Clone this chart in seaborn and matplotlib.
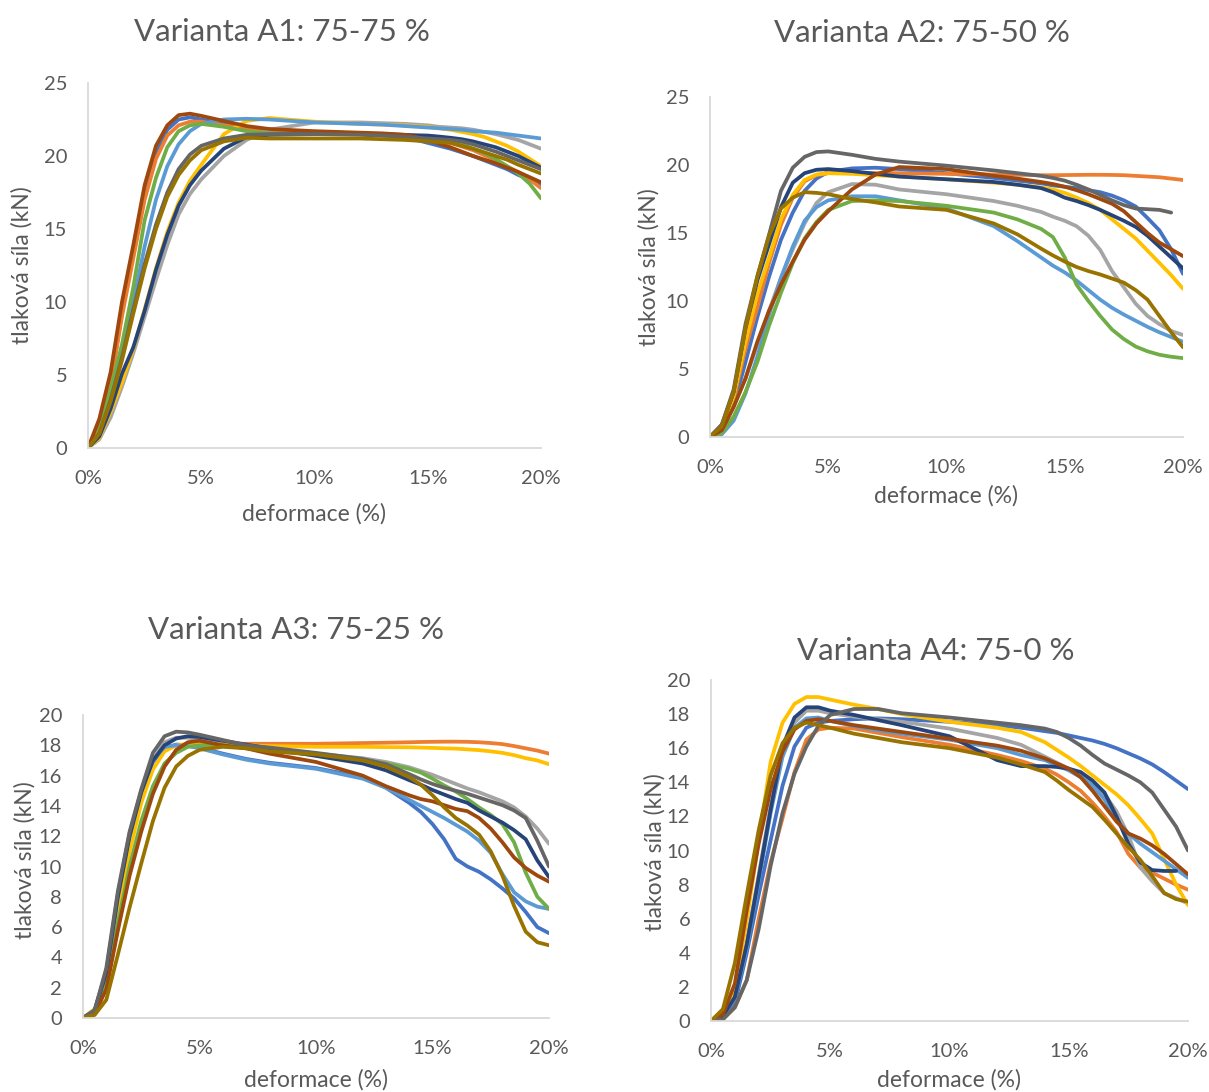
import numpy as np
import pandas as pd
import matplotlib
matplotlib.use("Agg")
import matplotlib.pyplot as plt
import seaborn as sns
from matplotlib.ticker import FuncFormatter, MultipleLocator

sns.set_theme(style="white")
plt.rcParams["font.family"] = ["Lato", "DejaVu Sans"]

# deformation steps (%) shared by all specimens
deformace = [0, 0.5, 1, 1.5, 2, 2.5, 3, 3.5, 4, 4.5, 5, 6, 7, 8, 10, 12, 13, 14,
             14.5, 15, 15.5, 16, 16.5, 17, 17.5, 18, 18.5, 19, 19.5, 20]

vzorky = ["1", "2", "3", "4", "5", "6", "7", "8", "9", "10"]
barvy = ["#4472C4", "#ED7D31", "#A5A5A5", "#FFC000", "#5B9BD5",
         "#70AD47", "#264478", "#9E480E", "#666666", "#997300"]

nan = np.nan

# Variant A1: 75-75 %  (force in kN)
a1 = {
    "1": [0, 1.5, 4.5, 9.3, 13.4, 17.3, 20.2, 21.8, 22.5, 22.65, 22.5, 22.2, 21.9, 21.7, 21.6, 21.5, 21.4, 21.3, 21.1, 20.9, 20.7, 20.5, 20.25, 20.0, 19.7, 19.4, 19.1, 18.7, 18.4, 18.0],
    "2": [0, 1.3, 4.3, 9.0, 13.0, 17.0, 19.8, 21.4, 22.1, 22.35, 22.35, 22.1, 21.9, 21.75, 21.65, 21.55, 21.5, 21.4, 21.3, 21.2, 21.05, 20.9, 20.65, 20.4, 20.05, 19.7, 19.3, 18.9, 18.4, 17.8],
    "3": [0, 0.6, 2.1, 4.2, 6.5, 9.0, 11.5, 13.9, 16.0, 17.4, 18.4, 20.0, 21.1, 21.8, 22.3, 22.3, 22.25, 22.2, 22.15, 22.1, 22.0, 21.95, 21.9, 21.8, 21.65, 21.5, 21.3, 21.1, 20.8, 20.5],
    "4": [0, 0.7, 2.5, 4.5, 6.8, 9.5, 12.3, 14.8, 16.8, 18.3, 19.4, 21.5, 22.4, 22.6, 22.35, 22.2, 22.15, 22.1, 22.05, 22.0, 21.9, 21.8, 21.65, 21.5, 21.3, 21.0, 20.7, 20.3, 19.8, 19.3],
    "5": [0, 1.0, 3.5, 6.5, 10.0, 13.8, 17.0, 19.3, 20.8, 21.7, 22.2, 22.5, 22.55, 22.5, 22.3, 22.2, 22.15, 22.05, 22.0, 21.95, 21.9, 21.85, 21.8, 21.7, 21.65, 21.6, 21.5, 21.4, 21.3, 21.2],
    "6": [0, 1.2, 4.0, 7.1, 11.0, 15.6, 18.5, 20.6, 21.7, 22.1, 22.2, 22.0, 21.7, 21.55, 21.5, 21.5, 21.45, 21.4, 21.35, 21.3, 21.15, 21.0, 20.8, 20.5, 20.2, 19.8, 19.3, 18.8, 18.1, 17.1],
    "7": [0, 0.8, 2.7, 5.1, 6.9, 9.4, 12.2, 14.6, 16.6, 18.0, 19.0, 20.5, 21.3, 21.45, 21.5, 21.5, 21.5, 21.45, 21.42, 21.4, 21.33, 21.25, 21.15, 21.0, 20.8, 20.6, 20.3, 20.0, 19.6, 19.2],
    "8": [0, 2.0, 5.2, 10.0, 13.9, 18.0, 20.7, 22.1, 22.8, 22.9, 22.75, 22.4, 22.05, 21.85, 21.7, 21.6, 21.55, 21.45, 21.3, 21.1, 20.85, 20.6, 20.3, 20.0, 19.75, 19.5, 19.2, 18.9, 18.55, 18.2],
    "9": [0, 1.0, 3.3, 6.2, 9.5, 12.6, 15.3, 17.5, 19.1, 20.1, 20.7, 21.2, 21.45, 21.5, 21.5, 21.45, 21.4, 21.3, 21.25, 21.2, 21.15, 21.1, 21.0, 20.8, 20.55, 20.3, 20.0, 19.7, 19.4, 19.1],
    "10": [0, 1.0, 3.2, 6.0, 9.2, 12.3, 15.0, 17.2, 18.7, 19.7, 20.4, 21.0, 21.25, 21.2, 21.2, 21.2, 21.15, 21.1, 21.05, 21.0, 20.95, 20.9, 20.7, 20.5, 20.25, 20.0, 19.75, 19.4, 19.1, 18.8],
}

# Variant A2: 75-50 %
a2 = {
    "1": [0, 0.6, 2.3, 5.5, 8.8, 11.8, 14.5, 16.5, 18.1, 19.0, 19.5, 19.75, 19.8, 19.7, 19.4, 19.05, 18.85, 18.65, 18.5, 18.4, 18.3, 18.15, 18.0, 17.75, 17.4, 16.95, 16.1, 15.2, 13.8, 12.0],
    "2": [0, 0.7, 2.8, 6.5, 9.5, 12.8, 15.6, 17.6, 18.8, 19.25, 19.4, 19.4, 19.4, 19.4, 19.35, 19.3, 19.28, 19.25, 19.25, 19.26, 19.27, 19.28, 19.28, 19.27, 19.25, 19.2, 19.15, 19.1, 19.0, 18.9],
    "3": [0, 0.6, 2.3, 4.3, 6.8, 9.3, 11.7, 13.8, 15.7, 17.2, 18.0, 18.6, 18.55, 18.2, 17.85, 17.35, 17.0, 16.55, 16.2, 15.9, 15.5, 14.8, 13.75, 12.2, 11.0, 9.8, 8.9, 8.3, 7.8, 7.5],
    "4": [0, 0.8, 3.0, 7.0, 10.5, 13.2, 16.0, 17.8, 18.9, 19.3, 19.4, 19.35, 19.25, 19.15, 18.95, 18.7, 18.55, 18.35, 18.2, 17.95, 17.6, 17.2, 16.7, 16.0, 15.3, 14.6, 13.7, 12.8, 11.9, 10.9],
    "5": [0, 0.2, 1.2, 3.2, 5.9, 9.0, 11.7, 14.0, 15.9, 16.9, 17.4, 17.7, 17.7, 17.4, 16.8, 15.5, 14.4, 13.2, 12.6, 12.1, 11.5, 10.8, 10.1, 9.5, 9.0, 8.55, 8.1, 7.7, 7.35, 7.0],
    "6": [0, 0.3, 1.5, 3.3, 5.5, 8.2, 10.6, 12.8, 14.6, 15.8, 16.7, 17.35, 17.4, 17.35, 17.0, 16.5, 16.0, 15.3, 14.7, 13.2, 11.2, 10.0, 8.9, 7.9, 7.2, 6.65, 6.3, 6.05, 5.9, 5.8],
    "7": [0, 0.9, 3.3, 8.0, 11.5, 14.2, 16.9, 18.7, 19.4, 19.65, 19.7, 19.55, 19.35, 19.15, 18.95, 18.75, 18.55, 18.3, 18.0, 17.6, 17.35, 17.05, 16.7, 16.3, 15.9, 15.45, 14.8, 14.0, 13.2, 12.4],
    "8": [0, 0.5, 2.2, 4.3, 7.0, 9.3, 11.2, 12.9, 14.5, 15.7, 16.6, 18.2, 19.3, 19.85, 19.7, 19.2, 19.0, 18.75, 18.6, 18.4, 18.15, 17.85, 17.5, 17.15, 16.6, 15.8, 15.0, 14.3, 13.8, 13.3],
    "9": [0, 0.9, 3.5, 8.3, 11.8, 14.9, 18.1, 19.8, 20.6, 20.95, 21.0, 20.75, 20.45, 20.25, 19.95, 19.6, 19.4, 19.2, 19.05, 18.85, 18.55, 18.2, 17.8, 17.4, 17.05, 16.8, 16.75, 16.7, 16.5, nan],
    "10": [0, 0.8, 3.3, 8.0, 11.8, 14.8, 16.8, 17.6, 18.0, 17.95, 17.85, 17.5, 17.25, 16.95, 16.7, 15.7, 14.9, 13.85, 13.35, 12.9, 12.5, 12.2, 11.95, 11.65, 11.35, 10.8, 10.1, 8.9, 7.7, 6.6],
}

# Variant A3: 75-25 %
a3 = {
    "1": [0, 0.5, 3.0, 7.9, 11.8, 14.8, 16.9, 17.8, 18.05, 18.0, 17.85, 17.45, 17.1, 16.85, 16.5, 15.9, 15.2, 14.2, 13.6, 12.8, 11.8, 10.5, 10.0, 9.65, 9.15, 8.55, 7.9, 7.0, 6.0, 5.6],
    "2": [0, 0.3, 2.0, 6.0, 9.6, 12.6, 15.0, 16.7, 17.6, 18.0, 18.1, 18.1, 18.1, 18.1, 18.1, 18.15, 18.17, 18.2, 18.22, 18.23, 18.24, 18.24, 18.23, 18.2, 18.15, 18.08, 17.95, 17.8, 17.65, 17.45],
    "3": [0, 0.5, 3.0, 7.8, 11.6, 14.6, 17.0, 18.2, 18.5, 18.5, 18.4, 18.15, 17.9, 17.7, 17.45, 17.15, 16.9, 16.55, 16.3, 16.05, 15.75, 15.45, 15.15, 14.9, 14.6, 14.3, 13.9, 13.3, 12.5, 11.5],
    "4": [0, 0.6, 2.8, 7.2, 11.0, 14.2, 16.4, 17.6, 18.0, 18.1, 18.1, 18.05, 18.0, 17.95, 17.9, 17.9, 17.88, 17.87, 17.85, 17.83, 17.8, 17.78, 17.73, 17.68, 17.6, 17.5, 17.35, 17.15, 17.0, 16.75],
    "5": [0, 0.5, 3.1, 8.2, 12.2, 15.0, 17.0, 17.9, 18.0, 17.95, 17.8, 17.4, 17.05, 16.8, 16.45, 15.8, 15.2, 14.4, 14.0, 13.6, 13.2, 12.75, 12.3, 11.7, 10.9, 9.5, 8.3, 7.7, 7.35, 7.2],
    "6": [0, 0.4, 2.3, 6.3, 10.0, 13.0, 15.3, 16.8, 17.5, 17.9, 18.0, 18.0, 17.85, 17.65, 17.35, 17.05, 16.8, 16.45, 16.2, 15.8, 15.35, 14.95, 14.45, 13.9, 13.4, 12.8, 11.6, 9.6, 8.0, 7.2],
    "7": [0, 0.5, 3.0, 8.0, 12.0, 14.9, 17.0, 18.0, 18.45, 18.6, 18.55, 18.3, 18.05, 17.8, 17.3, 16.8, 16.35, 15.7, 15.4, 15.05, 14.75, 14.45, 14.2, 13.7, 13.3, 12.9, 12.4, 11.8, 10.4, 9.3],
    "8": [0, 0.3, 1.9, 5.8, 9.4, 12.3, 14.8, 16.6, 17.7, 18.2, 18.3, 18.0, 17.8, 17.45, 16.9, 16.0, 15.3, 14.7, 14.45, 14.3, 14.05, 13.8, 13.65, 13.2, 12.5, 11.6, 10.6, 9.9, 9.4, 9.0],
    "9": [0, 0.5, 3.3, 8.4, 12.3, 15.1, 17.5, 18.6, 18.9, 18.85, 18.7, 18.35, 18.0, 17.85, 17.5, 17.1, 16.75, 16.1, 15.75, 15.45, 15.2, 15.0, 14.8, 14.55, 14.3, 14.05, 13.7, 13.2, 11.7, 10.0],
    "10": [0, 0.2, 1.2, 4.2, 7.3, 10.2, 13.0, 15.2, 16.6, 17.3, 17.7, 17.9, 17.8, 17.6, 17.4, 17.0, 16.6, 15.9, 15.4, 14.7, 13.9, 13.2, 12.7, 12.1, 11.0, 9.4, 7.4, 5.7, 5.0, 4.8],
}

# Variant A4: 75-0 %
a4 = {
    "1": [0, 0.2, 1.0, 4.0, 7.4, 10.6, 13.8, 16.1, 17.2, 17.5, 17.6, 17.7, 17.75, 17.7, 17.55, 17.35, 17.2, 17.0, 16.9, 16.75, 16.6, 16.45, 16.25, 16.0, 15.7, 15.4, 15.05, 14.6, 14.1, 13.6],
    "2": [0, 0.1, 0.8, 2.4, 6.0, 9.3, 11.9, 14.6, 16.5, 17.1, 17.2, 17.15, 16.9, 16.65, 16.2, 15.6, 15.25, 14.8, 14.45, 14.0, 13.5, 12.8, 12.0, 11.1, 9.8, 9.0, 8.7, 8.35, 8.0, 7.7],
    "3": [0, 0.3, 1.4, 4.6, 8.6, 12.6, 15.9, 17.5, 18.2, 18.2, 18.05, 17.85, 17.7, 17.55, 17.15, 16.6, 16.2, 15.5, 15.15, 14.8, 14.4, 13.9, 13.3, 12.3, 10.9, 9.0, 8.2, 7.5, 7.2, 6.9],
    "4": [0, 0.5, 1.9, 5.9, 10.6, 15.2, 17.5, 18.6, 19.0, 19.0, 18.85, 18.55, 18.3, 18.0, 17.55, 17.2, 16.95, 16.35, 15.9, 15.45, 14.95, 14.4, 13.85, 13.3, 12.65, 11.85, 11.0, 9.5, 8.0, 6.8],
    "5": [0, 0.3, 1.3, 4.3, 8.2, 12.2, 15.5, 17.2, 17.75, 17.8, 17.6, 17.3, 17.05, 16.85, 16.5, 16.0, 15.6, 15.3, 15.0, 14.7, 14.3, 13.8, 13.0, 11.8, 11.0, 10.4, 9.9, 9.4, 8.9, 8.4],
    "7": [0, 0.3, 1.4, 4.5, 8.4, 12.4, 16.1, 17.8, 18.4, 18.4, 18.2, 17.95, 17.65, 17.35, 16.7, 15.3, 14.95, 14.95, 14.9, 14.8, 14.6, 14.1, 13.4, 12.0, 10.4, 9.3, 8.85, 8.8, 8.8, nan],
    "8": [0, 0.4, 2.2, 6.5, 10.4, 13.6, 15.8, 17.1, 17.6, 17.7, 17.6, 17.35, 17.15, 16.95, 16.55, 16.15, 15.85, 15.4, 15.1, 14.8, 14.3, 13.5, 12.6, 11.7, 11.0, 10.7, 10.3, 9.8, 9.2, 8.6],
    "9": [0, 0.1, 0.8, 2.4, 5.4, 9.1, 12.2, 14.5, 16.1, 17.3, 17.95, 18.3, 18.3, 18.05, 17.8, 17.5, 17.35, 17.15, 16.95, 16.6, 16.15, 15.6, 15.1, 14.75, 14.4, 14.0, 13.4, 12.4, 11.4, 10.0],
    "10": [0, 0.7, 3.4, 7.4, 11.2, 14.4, 16.3, 17.2, 17.5, 17.35, 17.2, 16.85, 16.6, 16.35, 16.0, 15.45, 15.05, 14.6, 14.1, 13.55, 13.05, 12.55, 11.8, 11.0, 10.2, 9.45, 8.5, 7.5, 7.15, 7.0],
}

TEXT = "#595959"
AXIS = "#D9D9D9"
W, H = 1209, 1092

# (title, data, axes rect [px: left, top, right, bottom], ymax, ystep,
#  title xy, ylabel xy, xlabel xy)
panely = [
    ("Varianta A1: 75-75 %", a1, (88, 83, 541, 448), 25, 5, (282, 32), (22, 265), (314, 514)),
    ("Varianta A2: 75-50 %", a2, (710, 97, 1183, 437), 25, 5, (922, 33), (649, 267), (946, 496)),
    ("Varianta A3: 75-25 %", a3, (83, 715, 549, 1018), 20, 2, (296, 630), (25, 860), (316, 1080)),
    ("Varianta A4: 75-0 %", a4, (711, 680, 1188, 1021), 20, 2, (936, 651), (655, 852), (949, 1080)),
]

fig = plt.figure(figsize=(W / 100, H / 100), dpi=100)
fig.patch.set_facecolor("white")

for titulek, data, (l, t, r, b), ymax, ystep, txy, yxy, xxy in panely:
    ax = fig.add_axes([l / W, 1 - b / H, (r - l) / W, (b - t) / H])
    rows = []
    for name in vzorky:
        if name not in data:
            continue
        for x, y in zip(deformace, data[name]):
            if not np.isnan(y):
                rows.append({"deformace": x, "sila": y, "vzorek": name})
    df = pd.DataFrame(rows)
    order = [n for n in vzorky if n in data]
    pal = {n: barvy[int(n) - 1] for n in order}
    sns.lineplot(data=df, x="deformace", y="sila", hue="vzorek", hue_order=order,
                 palette=pal, estimator=None, sort=False, legend=False,
                 linewidth=2.7, ax=ax)
    ax.set_xlim(0, 20)
    ax.set_ylim(0, ymax)
    ax.xaxis.set_major_locator(MultipleLocator(5))
    ax.yaxis.set_major_locator(MultipleLocator(ystep))
    ax.xaxis.set_major_formatter(FuncFormatter(lambda v, p: f"{v:.0f}%"))
    ax.set_xlabel("")
    ax.set_ylabel("")
    for s in ("top", "right"):
        ax.spines[s].set_visible(False)
    for s in ("left", "bottom"):
        ax.spines[s].set_color(AXIS)
        ax.spines[s].set_linewidth(1.3)
    ax.tick_params(axis="both", direction="inout", length=8, width=1.3,
                   color=AXIS, labelcolor=TEXT, labelsize=14.5)
    ax.tick_params(axis="x", pad=12)
    ax.tick_params(axis="y", pad=11)
    ax.set_facecolor("white")
    for line in ax.lines:
        line.set_solid_capstyle("round")
        line.set_solid_joinstyle("round")

    fig.text(txy[0] / W, 1 - txy[1] / H, titulek, ha="center", va="center",
             fontsize=22.5, color=TEXT)
    fig.text(yxy[0] / W, 1 - yxy[1] / H, "tlaková síla (kN)", ha="center",
             va="center", rotation=90, fontsize=16.5, color=TEXT)
    fig.text(xxy[0] / W, 1 - xxy[1] / H, "deformace (%)", ha="center",
             va="center", fontsize=16.5, color=TEXT)

fig.savefig("out.png", dpi=100, facecolor="white")
